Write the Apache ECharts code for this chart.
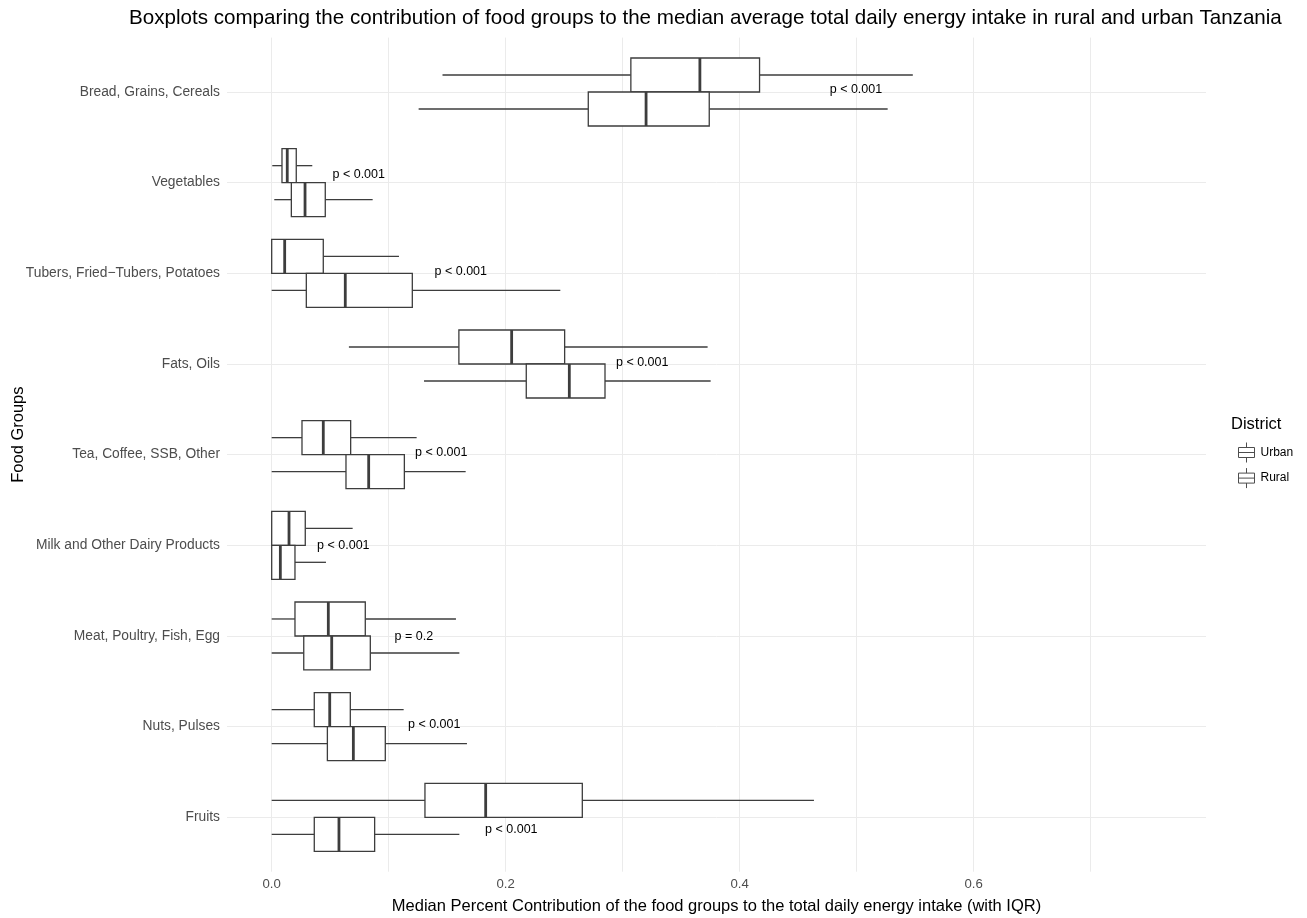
<!DOCTYPE html>
<html><head><meta charset="utf-8">
<script src="https://cdn.jsdelivr.net/npm/echarts@6/dist/echarts.min.js"></script>
<style>html,body{margin:0;padding:0;background:#fff}#c{width:1307px;height:918px}</style>
</head><body><div id="c"></div>
<script>
const categories = ['Bread, Grains, Cereals','Vegetables','Tubers, Fried\u2212Tubers, Potatoes','Fats, Oils','Tea, Coffee, SSB, Other','Milk and Other Dairy Products','Meat, Poultry, Fish, Egg','Nuts, Pulses','Fruits'];

const urbanLow    = [0.146, 0.0005, 0,      0.066,  0,      0,      0,      0,      0];
const urbanQ1     = [0.307, 0.0088, 0,      0.160,  0.0259, 0,      0.0199, 0.0364, 0.131];
const urbanMedian = [0.366, 0.0133, 0.0111, 0.2051, 0.0441, 0.0148, 0.0484, 0.0496, 0.1829];
const urbanQ3     = [0.417, 0.021,  0.0441, 0.2504, 0.0675, 0.0287, 0.080,  0.0672, 0.2655];
const urbanHigh   = [0.548, 0.0347, 0.1088, 0.3726, 0.1239, 0.0692, 0.1575, 0.1128, 0.4635];

const ruralLow    = [0.1256, 0.0022, 0,      0.1302, 0,      0,      0,      0,      0];
const ruralQ1     = [0.2706, 0.0168, 0.0296, 0.2176, 0.0635, 0,      0.0274, 0.0476, 0.0364];
const ruralMedian = [0.320,  0.0285, 0.0629, 0.2544, 0.0829, 0.0074, 0.0513, 0.0698, 0.0575];
const ruralQ3     = [0.374,  0.0458, 0.1202, 0.2849, 0.1134, 0.0199, 0.0843, 0.0971, 0.088];
const ruralHigh   = [0.5265, 0.0863, 0.2467, 0.3752, 0.1658, 0.0464, 0.1604, 0.1669, 0.1604];

const pValues = ['p < 0.001','p < 0.001','p < 0.001','p < 0.001','p < 0.001','p < 0.001','p = 0.2','p < 0.001','p < 0.001'];
const pLabelX = [0.4994, 0.0744, 0.1616, 0.3167, 0.1449, 0.0612, 0.1215, 0.1389, 0.2048];
const pLabelY = [-0.03, 0.916, 1.982, 2.986, 3.979, 5.0, 6.008, 6.982, 8.132];

const xLabelTicks = [0, 0.2, 0.4, 0.6];
const xGridTicks = [0, 0.1, 0.2, 0.3, 0.4, 0.5, 0.6, 0.7];
const catTicks = [0, 1, 2, 3, 4, 5, 6, 7, 8];

const FONT = 'Liberation Sans, Arial, sans-serif';
const LINE = '#3d3d3d';

function buildBoxData(lo, q1, med, q3, hi) {
  return categories.map((c, i) => [i, lo[i], q1[i], med[i], q3[i], hi[i]]);
}

function boxRenderer(offset) {
  const half = 0.1875;
  return function (params, api) {
    const cat = api.value(0);
    const yc = cat + offset;
    const pLo = api.coord([api.value(1), yc]);
    const pQ1 = api.coord([api.value(2), yc]);
    const pMed = api.coord([api.value(3), yc]);
    const pQ3 = api.coord([api.value(4), yc]);
    const pHi = api.coord([api.value(5), yc]);
    const top = api.coord([0, yc - half])[1];
    const bot = api.coord([0, yc + half])[1];
    const y0 = Math.min(top, bot), y1 = Math.max(top, bot);
    const ls = {stroke: LINE, lineWidth: 1.3, fill: null};
    return {
      type: 'group',
      children: [
        {type: 'line', shape: {x1: pLo[0], y1: pLo[1], x2: pQ1[0], y2: pQ1[1]}, style: ls},
        {type: 'line', shape: {x1: pQ3[0], y1: pQ3[1], x2: pHi[0], y2: pHi[1]}, style: ls},
        {type: 'rect', shape: {x: pQ1[0], y: y0, width: pQ3[0] - pQ1[0], height: y1 - y0}, style: {stroke: LINE, lineWidth: 1.3, fill: '#ffffff'}},
        {type: 'line', shape: {x1: pMed[0], y1: y0, x2: pMed[0], y2: y1}, style: {stroke: LINE, lineWidth: 2.8}}
      ]
    };
  };
}

const chart = echarts.init(document.getElementById('c'), null, {renderer: 'canvas'});

const option = {
  backgroundColor: '#ffffff',
  animation: false,
  textStyle: {fontFamily: FONT},
  title: [
    {text: 'Boxplots comparing the contribution of food groups to the median average total daily energy intake in rural and urban Tanzania',
     left: 129, top: 8, padding: 0,
     textStyle: {fontSize: 20.6, fontWeight: 'normal', color: '#000', fontFamily: FONT}},
    {text: 'District', left: 1231, top: 416, padding: 0,
     textStyle: {fontSize: 16.5, fontWeight: 'normal', color: '#000', fontFamily: FONT}}
  ],
  legend: {
    data: ['Urban', 'Rural'],
    orient: 'vertical',
    left: 1238, top: 442,
    padding: 0,
    itemWidth: 18, itemHeight: 20, itemGap: 4.6,
    icon: 'path://M8,0 L8,5 M0,5 L16,5 L16,15 L0,15 Z M0,10 L16,10 M8,15 L8,20',
    itemStyle: {color: '#ffffff', borderColor: '#4d4d4d', borderWidth: 1},
    textStyle: {fontSize: 12, color: '#000', fontFamily: FONT},
    selectedMode: false
  },
  grid: {left: 227, right: 101, top: 37.6, bottom: 46.3, containLabel: false, outerBoundsMode: 'none'},
  xAxis: {
    type: 'value', min: -0.0382, max: 0.7986,
    name: 'Median Percent Contribution of the food groups to the total daily energy intake (with IQR)',
    nameLocation: 'middle', nameGap: 26, nameMoveOverlap: false,
    nameTextStyle: {fontSize: 16.5, color: '#000', fontFamily: FONT},
    axisLine: {show: false},
    axisTick: {show: false, customValues: xGridTicks},
    axisLabel: {customValues: xLabelTicks, formatter: v => v.toFixed(1), color: '#4d4d4d', fontSize: 13.2, margin: 6, fontFamily: FONT},
    splitLine: {show: true, lineStyle: {color: '#ebebeb', width: 1}}
  },
  yAxis: {
    type: 'value', min: -0.6, max: 8.6, inverse: true,
    name: 'Food Groups', nameLocation: 'middle', nameRotate: 90, nameGap: 200, nameMoveOverlap: false,
    nameTextStyle: {fontSize: 16.5, color: '#000', fontFamily: FONT, padding: [0, 0, 0, 40]},
    axisLine: {show: false},
    axisTick: {show: false, customValues: catTicks},
    axisLabel: {customValues: catTicks, formatter: v => categories[Math.round(v)] || '', color: '#4d4d4d', fontSize: 13.8, margin: 7, fontFamily: FONT},
    splitLine: {show: true, lineStyle: {color: '#ebebeb', width: 1}}
  },
  series: [
    {name: 'Urban', type: 'custom', renderItem: boxRenderer(-0.1875),
     data: buildBoxData(urbanLow, urbanQ1, urbanMedian, urbanQ3, urbanHigh),
     encode: {x: [1, 2, 3, 4, 5], y: 0}, itemStyle: {color: '#fff', borderColor: LINE}},
    {name: 'Rural', type: 'custom', renderItem: boxRenderer(0.1875),
     data: buildBoxData(ruralLow, ruralQ1, ruralMedian, ruralQ3, ruralHigh),
     encode: {x: [1, 2, 3, 4, 5], y: 0}, itemStyle: {color: '#fff', borderColor: LINE}},
    {name: 'pvalues', type: 'custom',
     data: pValues.map((t, i) => [pLabelX[i], pLabelY[i], t]),
     encode: {x: 0, y: 1},
     renderItem: function (params, api) {
       const p = api.coord([api.value(0), api.value(1)]);
       return {type: 'text', x: p[0], y: p[1],
         style: {text: pValues[params.dataIndex], fill: '#000', font: '12.5px ' + FONT, align: 'center', verticalAlign: 'middle'}};
     }}
  ]
};
chart.setOption(option);
</script>
</body></html>
